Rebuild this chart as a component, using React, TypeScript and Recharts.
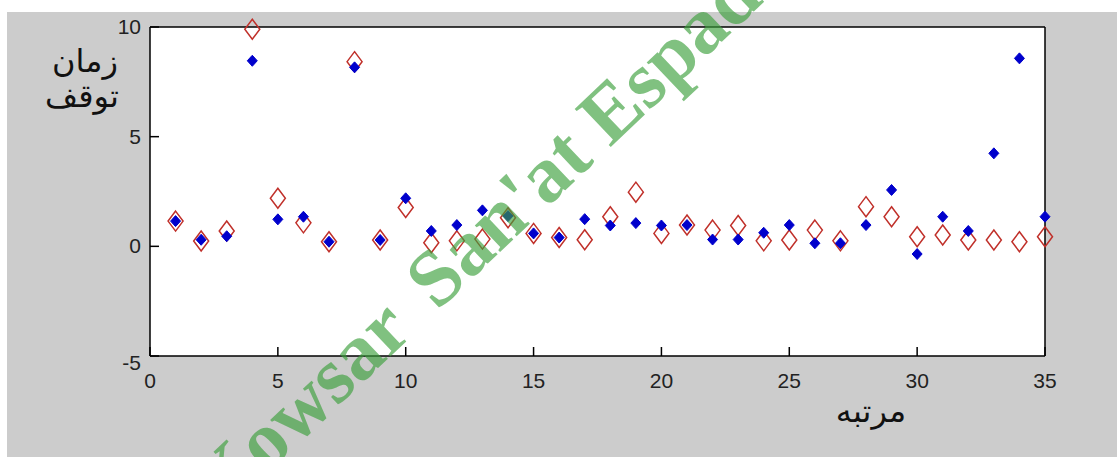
import { CartesianGrid, Scatter, ScatterChart, XAxis, YAxis } from "recharts";

const ranks = [
  1, 2, 3, 4, 5, 6, 7, 8, 9, 10, 11, 12, 13, 14, 15, 16, 17, 18, 19, 20, 21, 22, 23, 24, 25, 26, 27, 28,
  29, 30, 31, 32, 33, 34, 35,
];
const redValues = [
  1.15, 0.24, 0.7, 9.9, 2.19, 1.07, 0.21, 8.42, 0.29, 1.77, 0.16, 0.25, 0.33, 1.3, 0.59, 0.4, 0.3, 1.35,
  2.47, 0.59, 0.97, 0.74, 0.95, 0.25, 0.29, 0.74, 0.25, 1.81, 1.35, 0.44, 0.52, 0.29, 0.29, 0.21, 0.44,
];
const blueValues = [
  1.15, 0.3, 0.46, 8.46, 1.23, 1.35, 0.21, 8.16, 0.29, 2.19, 0.7, 0.97, 1.64, 1.38, 0.59, 0.4, 1.24, 0.95,
  1.06, 0.95, 0.97, 0.31, 0.31, 0.62, 0.97, 0.14, 0.14, 0.97, 2.57, -0.35, 1.35, 0.7, 4.24, 8.57, 1.35,
];
const xTicks = [0, 5, 10, 15, 20, 25, 30, 35];
const yTicks = [-5, 0, 5, 10];

const redData = ranks.map((r, i) => ({ rank: r, value: redValues[i] }));
const blueData = ranks.map((r, i) => ({ rank: r, value: blueValues[i] }));

const TICK = 9;
const labelFont = "'Liberation Sans', Arial, sans-serif";

function RedDiamond({ cx, cy }: { cx?: number; cy?: number }) {
  if (cx == null || cy == null) return null;
  const w = 7.5;
  const h = 10;
  return (
    <polygon
      points={`${cx},${cy - h} ${cx + w},${cy} ${cx},${cy + h} ${cx - w},${cy}`}
      fill="none"
      stroke="#c0302a"
      strokeWidth={1.5}
    />
  );
}

function BlueDiamond({ cx, cy }: { cx?: number; cy?: number }) {
  if (cx == null || cy == null) return null;
  const w = 5;
  const h = 5.5;
  return (
    <polygon
      points={`${cx},${cy - h} ${cx + w},${cy} ${cx},${cy + h} ${cx - w},${cy}`}
      fill="#0000cc"
      stroke="#0000cc"
      strokeWidth={1}
    />
  );
}

function BottomTick({ x, y, payload }: any) {
  return (
    <g>
      <line x1={x} x2={x} y1={y} y2={y - TICK} stroke="#000" strokeWidth={1.5} />
      <text x={x} y={y + 32} textAnchor="middle" fontSize={21} fontFamily={labelFont} fill="#222">
        {payload.value}
      </text>
    </g>
  );
}

function TopTick({ x, y }: any) {
  return <line x1={x} x2={x} y1={y} y2={y + TICK} stroke="#000" strokeWidth={1.5} />;
}

function LeftTick({ x, y, payload }: any) {
  const dy = payload.value === -5 ? 14 : 7;
  return (
    <g>
      <line x1={x} x2={x + TICK} y1={y} y2={y} stroke="#000" strokeWidth={1.5} />
      <text x={x - 9} y={y + dy} textAnchor="end" fontSize={21} fontFamily={labelFont} fill="#222">
        {payload.value}
      </text>
    </g>
  );
}

function RightTick({ x, y }: any) {
  return <line x1={x} x2={x - TICK} y1={y} y2={y} stroke="#000" strokeWidth={1.5} />;
}

export default function App() {
  return (
    <div style={{ position: "absolute", left: 0, top: 0, width: 1117, height: 457, background: "#fff" }}>
      <div style={{ position: "absolute", left: 7, top: 12, width: 1110, height: 445, background: "#cccccc" }} />
      <div style={{ position: "absolute", left: 0, top: 0 }}>
        <ScatterChart width={1117} height={457} margin={{ top: 17, right: 62, bottom: 61, left: 90 }}>
          <CartesianGrid fill="#fff" horizontal={false} vertical={false} />
          <XAxis
            dataKey="rank"
            type="number"
            domain={[0, 35]}
            ticks={xTicks}
            height={40}
            tickSize={0}
            tickMargin={0}
            tickLine={false}
            axisLine={{ stroke: "#000", strokeWidth: 1.5 }}
            tick={<BottomTick />}
          />
          <XAxis
            xAxisId="top"
            orientation="top"
            dataKey="rank"
            type="number"
            domain={[0, 35]}
            ticks={xTicks}
            height={10}
            tickSize={0}
            tickMargin={0}
            tickLine={false}
            axisLine={{ stroke: "#000", strokeWidth: 1.5 }}
            tick={<TopTick />}
          />
          <YAxis
            dataKey="value"
            type="number"
            domain={[-5, 10]}
            ticks={yTicks}
            width={60}
            tickSize={0}
            tickMargin={0}
            tickLine={false}
            axisLine={{ stroke: "#000", strokeWidth: 1.5 }}
            tick={<LeftTick />}
          />
          <YAxis
            yAxisId="right"
            orientation="right"
            dataKey="value"
            type="number"
            domain={[-5, 10]}
            ticks={yTicks}
            width={10}
            tickSize={0}
            tickMargin={0}
            tickLine={false}
            axisLine={{ stroke: "#000", strokeWidth: 1.5 }}
            tick={<RightTick />}
          />
          <Scatter data={redData} shape={<RedDiamond />} isAnimationActive={false} />
          <Scatter data={blueData} shape={<BlueDiamond />} isAnimationActive={false} />
        </ScatterChart>
      </div>
      <svg
        width={1117}
        height={457}
        style={{ position: "absolute", left: 0, top: 0, pointerEvents: "none" }}
      >
        <g fontFamily="'DejaVu Sans', sans-serif" fill="#111">
          <text x={85} y={72} textAnchor="middle" fontSize={32}>
            زمان
          </text>
          <text x={82} y={107} textAnchor="middle" fontSize={32}>
            توقف
          </text>
          <text x={871} y={422} textAnchor="middle" fontSize={32}>
            مرتبه
          </text>
        </g>
        {/* watermark */}
        <text
          x={221}
          y={517}
          transform="rotate(-43.5 221 517)"
          fontFamily="'Liberation Serif', 'Times New Roman', serif"
          fontWeight="bold"
          fontSize={80}
          fill="rgb(60,160,60)"
          fillOpacity={0.65}
        >
          Kowsar <tspan dx={13}>San'at Espadana</tspan>
        </text>
      </svg>
    </div>
  );
}
